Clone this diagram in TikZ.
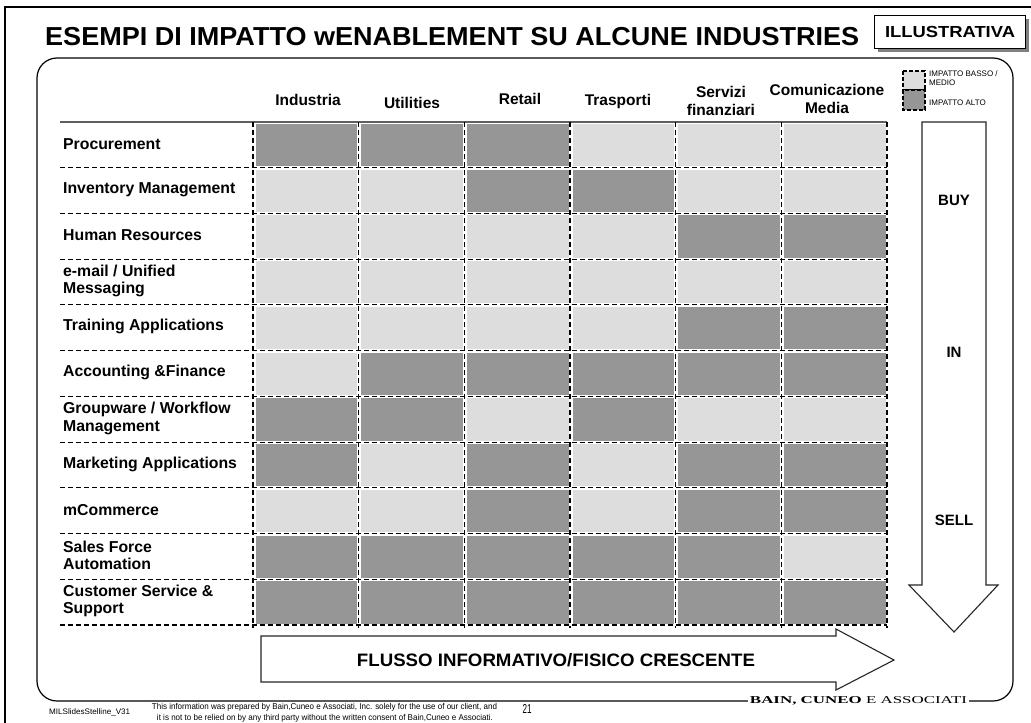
\documentclass[tikz,border=0pt]{standalone}
\usepackage{fontspec}
\setmainfont{Liberation Sans}
\newfontfamily\bainfont{Liberation Serif}
\usepackage{graphicx}
\usetikzlibrary{shadows}
\definecolor{dkcell}{HTML}{969696}
\definecolor{ltcell}{HTML}{DDDDDD}
\definecolor{hdrline}{HTML}{5F5F5F}
\tikzset{
  lab/.style={anchor=west, inner sep=0pt, align=left, font=\fontsize{15.8}{17.5}\selectfont\bfseries},
  hdr/.style={anchor=base, inner sep=0pt, align=center, font=\fontsize{15.5}{18}\selectfont\bfseries},
  cell0/.style={fill=ltcell},
  cell1/.style={fill=dkcell},
  gridline/.style={line width=1.1pt, dash pattern=on 5pt off 3pt},
  legbox/.style={line width=1.2pt, dash pattern=on 4pt off 2pt},
  arrowshape/.style={draw=black!85, line width=1.1pt, fill=white},
  big/.style={inner sep=0pt, font=\fontsize{15}{15}\selectfont\bfseries},
}
\begin{document}
\begin{tikzpicture}[x=1pt,y=-1pt]
\useasboundingbox (0,0) rectangle (1031,723);
\fill[white] (0,0) rectangle (1031,723);
% page frame
\draw[line width=2pt] (5,723) -- (5,7) -- (1031,7);
% title
\node[anchor=west, inner sep=0pt] (title) at (45,37)
  {\resizebox{814pt}{\height}{\fontsize{26}{26}\selectfont\bfseries ESEMPI DI IMPATTO wENABLEMENT SU ALCUNE INDUSTRIES}};
\node[draw, line width=1pt, fill=white, minimum width=151pt, minimum height=33pt, inner sep=0pt,
      drop shadow={shadow xshift=3pt, shadow yshift=-3pt, fill=black!50, opacity=1}] (illu) at (950,32)
  {\resizebox{130pt}{\height}{\fontsize{16}{16}\selectfont\bfseries ILLUSTRATIVA}};
% panel
\draw[line width=1.2pt, rounded corners=20pt] (37,58) rectangle (1013,701);
\node[fill=white, inner xsep=2pt, inner ysep=1pt] (bain) at (858.5,700.5)
  {\resizebox{217pt}{\height}{\bainfont\fontsize{10.5}{10.5}\selectfont\textbf{BAIN, CUNEO} E ASSOCIATI}};
% legend
\draw[legbox, fill=ltcell] (903,71) rectangle (925,90);
\draw[legbox, fill=dkcell] (903,90) rectangle (925,110);
\node[anchor=west, inner sep=0pt, align=left, font=\fontsize{8}{9}\selectfont] (leg1) at (929,78.5) {IMPATTO BASSO /\\MEDIO};
\node[anchor=west, inner sep=0pt, font=\fontsize{8}{9}\selectfont] (leg2) at (929,103) {IMPATTO ALTO};
% headers
\node[hdr] (h1) at (308,105) {Industria};
\node[hdr] (h2) at (412,108) {Utilities};
\node[hdr] (h3) at (520,104) {Retail};
\node[hdr] (h4) at (618,105) {Trasporti};
\node[hdr] (h5) at (721,115) {Servizi\\finanziari};
\node[hdr] (h6) at (827,113) {Comunicazione\\Media};
% cells
\foreach \r/\vals in {1/{1,1,1,0,0,0},2/{0,0,1,1,0,0},3/{0,0,0,0,1,1},4/{0,0,0,0,0,0},5/{0,0,0,0,1,1},6/{0,1,1,1,1,1},7/{1,1,0,1,0,0},8/{1,0,1,0,1,1},9/{0,0,1,0,1,1},10/{1,1,1,1,1,0},11/{1,1,1,1,1,1}}{
  \foreach \v [count=\c] in \vals {
    \fill[cell\v] ({253+(\c-1)*105.667+2.5},{122+(\r-1)*45.727+2}) rectangle ({253+\c*105.667-1.5},{122+\r*45.727-1.5});
  }
}
% grid lines
\draw[hdrline, line width=2pt] (60,122) -- (887,122);
\foreach \j in {1,...,11}{
  \draw[gridline] (60,{122+\j*45.727}) -- (887,{122+\j*45.727});
}
\foreach \i in {0,...,6}{
  \draw[gridline] ({253+\i*105.667},122) -- ({253+\i*105.667},628);
}
% row labels
\foreach \r/\t in {1/Procurement,2/Inventory Management,3/Human Resources,4/{e-mail / Unified\\Messaging},5/Training Applications,6/Accounting \&Finance,7/{Groupware / Workflow\\Management},8/Marketing Applications,9/mCommerce,10/{Sales Force\\Automation},11/{Customer Service \&\\Support}}{
  \node[lab] (row\r) at (63,{122+(\r-0.5)*45.727-1}) {\t};
}
% down arrow
\draw[arrowshape] (922,122) -- (986,122) -- (986,585) -- (998,585) -- (954,632) -- (909,585) -- (922,585) -- cycle;
\node[big] (buy) at (954,200) {BUY};
\node[big] (in) at (954,352) {IN};
\node[big] (sell) at (954,520) {SELL};
% right arrow
\draw[arrowshape] (261,636) -- (836,636) -- (836,629) -- (894,660) -- (836,690) -- (836,682) -- (261,682) -- cycle;
\node[inner sep=0pt] (flow) at (556,660)
  {\resizebox{398pt}{\height}{\fontsize{18}{18}\selectfont\bfseries FLUSSO INFORMATIVO/FISICO CRESCENTE}};
% footer
\node[anchor=west, inner sep=0pt] (ver) at (49,712)
  {\resizebox{81pt}{\height}{\fontsize{8}{8}\selectfont MILSlidesStelline\_V31}};
\node[inner sep=0pt] (disc1) at (324.5,707.5)
  {\resizebox{345pt}{\height}{\fontsize{8.5}{8.5}\selectfont This information was prepared by Bain,Cuneo e Associati, Inc. solely for the use of our client, and}};
\node[inner sep=0pt] (disc2) at (325,718)
  {\resizebox{336pt}{\height}{\fontsize{8.5}{8.5}\selectfont it is not to be relied on by any third party without the written consent of Bain,Cuneo e Associati.}};
\node[inner sep=0pt] (pg) at (527,709)
  {\resizebox{9pt}{\height}{\fontsize{13}{13}\selectfont 21}};
\end{tikzpicture}
\end{document}
